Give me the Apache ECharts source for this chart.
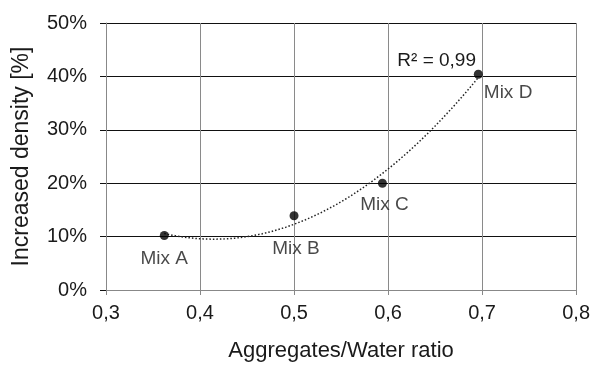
<!DOCTYPE html>
<html>
<head>
<meta charset="utf-8">
<script src="https://cdn.jsdelivr.net/npm/echarts@6/dist/echarts.min.js"></script>
<style>
  html, body { margin: 0; padding: 0; background: #fff; }
  #chart { width: 593px; height: 367px; }
</style>
</head>
<body>
<div id="chart"></div>
<script>
// Measured mixes: aggregates/water ratio vs. increase in density (%)
const mixNames = ['Mix A', 'Mix B', 'Mix C', 'Mix D'];
const ratios = [0.362, 0.5, 0.594, 0.696];
const densityGain = [10.2, 13.9, 20.0, 40.4];
const xTicks = [0.3, 0.4, 0.5, 0.6, 0.7, 0.8];
const yTicks = [0, 10, 20, 30, 40, 50];
const rSquaredText = 'R² = 0,99';

// Second-order least-squares trend line through the measured mixes
function quadFit(xs, ys) {
  const n = xs.length;
  let s = [0, 0, 0, 0, 0], t = [0, 0, 0];
  for (let i = 0; i < n; i++) {
    let p = 1;
    for (let k = 0; k < 5; k++) { s[k] += p; p *= xs[i]; }
    t[0] += ys[i]; t[1] += ys[i] * xs[i]; t[2] += ys[i] * xs[i] * xs[i];
  }
  const M = [[s[0], s[1], s[2], t[0]], [s[1], s[2], s[3], t[1]], [s[2], s[3], s[4], t[2]]];
  for (let c = 0; c < 3; c++) {
    for (let r = c + 1; r < 3; r++) {
      const f = M[r][c] / M[c][c];
      for (let k = c; k < 4; k++) M[r][k] -= f * M[c][k];
    }
  }
  const a = [0, 0, 0];
  for (let r = 2; r >= 0; r--) {
    let v = M[r][3];
    for (let k = r + 1; k < 3; k++) v -= M[r][k] * a[k];
    a[r] = v / M[r][r];
  }
  return a;
}
const coef = quadFit(ratios, densityGain);
const trend = [];
const x0 = ratios[0], x1 = ratios[ratios.length - 1];
const steps = 80;
for (let i = 0; i <= steps; i++) {
  const x = x0 + (x1 - x0) * i / steps;
  trend.push([x, coef[0] + coef[1] * x + coef[2] * x * x]);
}

// Where each mix name sits relative to its point
const labelOffsets = {
  'Mix A': { position: 'bottom', offset: [0, 4] },
  'Mix B': { position: 'bottom', offset: [2, 14] },
  'Mix C': { position: 'bottom', offset: [2, 3] },
  'Mix D': { position: 'right', offset: [-4, 19] }
};

const points = mixNames.map((name, i) => ({
  name: name,
  value: [ratios[i], densityGain[i]],
  label: Object.assign({ show: true, formatter: name }, labelOffsets[name])
}));

const font = 'Liberation Sans, Arial, sans-serif';
const textColor = '#1a1a1a';
const chart = echarts.init(document.getElementById('chart'), null, { renderer: 'canvas' });
chart.setOption({
  animation: false,
  backgroundColor: '#fff',
  grid: { left: 106, right: 16, top: 23, bottom: 72, containLabel: false },
  xAxis: {
    type: 'value',
    min: xTicks[0], max: xTicks[xTicks.length - 1], interval: 0.1,
    name: 'Aggregates/Water ratio',
    nameLocation: 'middle', nameGap: 50,
    nameTextStyle: { fontFamily: font, fontSize: 22, color: textColor },
    axisLine: { show: true, lineStyle: { color: '#888', width: 1 } },
    axisTick: { show: true, length: 5, lineStyle: { color: '#888' } },
    axisLabel: {
      fontFamily: font, fontSize: 20, color: textColor, margin: 13,
      formatter: v => v.toFixed(1).replace('.', ',')
    },
    splitLine: { show: true, lineStyle: { color: '#8a8a8a', width: 1 } }
  },
  yAxis: {
    type: 'value',
    min: yTicks[0], max: yTicks[yTicks.length - 1], interval: 10,
    name: 'Increased density [%]',
    nameLocation: 'middle', nameGap: 73,
    nameTextStyle: { fontFamily: font, fontSize: 23, color: textColor },
    axisLine: { show: true, lineStyle: { color: '#888', width: 1 } },
    axisTick: { show: true, length: 6, lineStyle: { color: '#111' } },
    axisLabel: {
      fontFamily: font, fontSize: 20, color: textColor, margin: 19,
      formatter: v => v + '%'
    },
    splitLine: { show: true, lineStyle: { color: '#111', width: 1 } }
  },
  series: [
    {
      type: 'line',
      data: trend,
      showSymbol: false,
      symbol: 'none',
      smooth: false,
      lineStyle: { color: '#222', width: 1.5, type: [1.5, 2] },
      endLabel: {
        show: true,
        formatter: rSquaredText,
        fontFamily: font, fontSize: 19, color: textColor,
        offset: [-89, -17]
      },
      z: 2
    },
    {
      type: 'scatter',
      data: points,
      symbol: 'circle',
      symbolSize: 9,
      itemStyle: { color: '#000' },
      label: { fontFamily: font, fontSize: 19, color: textColor },
      z: 3
    }
  ]
});
</script>
</body>
</html>
